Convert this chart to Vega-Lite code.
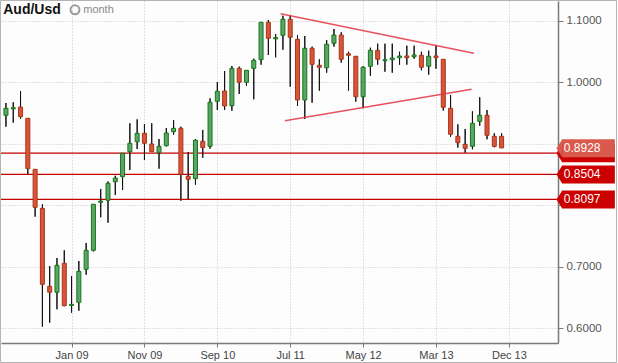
{
  "$schema": "https://vega.github.io/schema/vega-lite/v6.json",
  "width": 557,
  "height": 342,
  "padding": {"left": 1, "top": 1, "right": 60, "bottom": 20},
  "autosize": {"type": "none"},
  "background": "#fdfdfd",
  "config": {"view": {"stroke": null}, "font": "Liberation Sans", "scale": {"continuousPadding": 0}},
  "datasets": {
    "candles": [
      {"i": -9, "o": 0.9466, "h": 0.9666, "l": 0.928, "c": 0.958},
      {"i": -8, "o": 0.957, "h": 0.9677, "l": 0.9345, "c": 0.959},
      {"i": -7, "o": 0.96, "h": 0.986, "l": 0.941, "c": 0.9443},
      {"i": -6, "o": 0.9417, "h": 0.942, "l": 0.851, "c": 0.8597},
      {"i": -5, "o": 0.8587, "h": 0.859, "l": 0.7816, "c": 0.7969},
      {"i": -4, "o": 0.7952, "h": 0.8018, "l": 0.6026, "c": 0.6716},
      {"i": -3, "o": 0.6683, "h": 0.7014, "l": 0.6091, "c": 0.6586},
      {"i": -2, "o": 0.6586, "h": 0.7144, "l": 0.6309, "c": 0.7025},
      {"i": -1, "o": 0.7058, "h": 0.7269, "l": 0.636, "c": 0.6368},
      {"i": 0, "o": 0.637, "h": 0.6851, "l": 0.6254, "c": 0.639},
      {"i": 1, "o": 0.6423, "h": 0.7095, "l": 0.6286, "c": 0.6927},
      {"i": 2, "o": 0.696, "h": 0.7388, "l": 0.6872, "c": 0.7269},
      {"i": 3, "o": 0.7269, "h": 0.802, "l": 0.725, "c": 0.8018},
      {"i": 4, "o": 0.805, "h": 0.8267, "l": 0.7806, "c": 0.807},
      {"i": 5, "o": 0.8083, "h": 0.839, "l": 0.7718, "c": 0.8359},
      {"i": 6, "o": 0.8385, "h": 0.8483, "l": 0.8169, "c": 0.8445},
      {"i": 7, "o": 0.8467, "h": 0.885, "l": 0.825, "c": 0.8847},
      {"i": 8, "o": 0.8873, "h": 0.9336, "l": 0.8576, "c": 0.901},
      {"i": 9, "o": 0.9036, "h": 0.94, "l": 0.8917, "c": 0.9173},
      {"i": 10, "o": 0.9173, "h": 0.9324, "l": 0.8738, "c": 0.901},
      {"i": 11, "o": 0.8999, "h": 0.9336, "l": 0.887, "c": 0.8873},
      {"i": 12, "o": 0.8857, "h": 0.908, "l": 0.8597, "c": 0.8961},
      {"i": 13, "o": 0.8971, "h": 0.9259, "l": 0.896, "c": 0.9178},
      {"i": 14, "o": 0.9199, "h": 0.9389, "l": 0.915, "c": 0.9254},
      {"i": 15, "o": 0.9254, "h": 0.928, "l": 0.8076, "c": 0.8506},
      {"i": 16, "o": 0.8473, "h": 0.8869, "l": 0.8104, "c": 0.8424},
      {"i": 17, "o": 0.8434, "h": 0.908, "l": 0.8337, "c": 0.9059},
      {"i": 18, "o": 0.9043, "h": 0.9227, "l": 0.8776, "c": 0.8939},
      {"i": 19, "o": 0.8961, "h": 0.9742, "l": 0.8922, "c": 0.9677},
      {"i": 20, "o": 0.9693, "h": 1.0007, "l": 0.9552, "c": 0.9856},
      {"i": 21, "o": 0.9861, "h": 1.0186, "l": 0.9552, "c": 0.9617},
      {"i": 22, "o": 0.9622, "h": 1.0268, "l": 0.954, "c": 1.023},
      {"i": 23, "o": 1.023, "h": 1.0257, "l": 0.9812, "c": 1.0003},
      {"i": 24, "o": 1.0003, "h": 1.02, "l": 0.9947, "c": 1.0198},
      {"i": 25, "o": 1.023, "h": 1.0387, "l": 0.9726, "c": 1.036},
      {"i": 26, "o": 1.037, "h": 1.098, "l": 1.0289, "c": 1.0979},
      {"i": 27, "o": 1.0979, "h": 1.1016, "l": 1.0447, "c": 1.0719},
      {"i": 28, "o": 1.071, "h": 1.0788, "l": 1.0409, "c": 1.073},
      {"i": 29, "o": 1.0767, "h": 1.1086, "l": 1.0533, "c": 1.1028},
      {"i": 30, "o": 1.1028, "h": 1.1086, "l": 0.9931, "c": 1.0735},
      {"i": 31, "o": 1.0702, "h": 1.0772, "l": 0.9617, "c": 0.9715},
      {"i": 32, "o": 0.9715, "h": 1.0756, "l": 0.9405, "c": 1.0556},
      {"i": 33, "o": 1.0556, "h": 1.0582, "l": 0.9671, "c": 1.0295},
      {"i": 34, "o": 1.0279, "h": 1.0377, "l": 0.9866, "c": 1.0247},
      {"i": 35, "o": 1.024, "h": 1.0691, "l": 1.0159, "c": 1.0621},
      {"i": 36, "o": 1.0637, "h": 1.087, "l": 1.0582, "c": 1.0772},
      {"i": 37, "o": 1.0772, "h": 1.0816, "l": 1.0322, "c": 1.0377},
      {"i": 38, "o": 1.0468, "h": 1.05, "l": 0.9866, "c": 1.0442},
      {"i": 39, "o": 1.0426, "h": 1.043, "l": 0.9687, "c": 0.9768},
      {"i": 40, "o": 0.9768, "h": 1.0263, "l": 0.958, "c": 1.0247},
      {"i": 41, "o": 1.0263, "h": 1.0566, "l": 1.011, "c": 1.0523},
      {"i": 42, "o": 1.0523, "h": 1.0631, "l": 1.0289, "c": 1.0377},
      {"i": 43, "o": 1.0354, "h": 1.0631, "l": 1.0175, "c": 1.037},
      {"i": 44, "o": 1.037, "h": 1.0631, "l": 1.0159, "c": 1.0398},
      {"i": 45, "o": 1.0403, "h": 1.05, "l": 1.0289, "c": 1.0431},
      {"i": 46, "o": 1.0431, "h": 1.0598, "l": 1.0289, "c": 1.0403},
      {"i": 47, "o": 1.0419, "h": 1.0598, "l": 1.0387, "c": 1.0447},
      {"i": 48, "o": 1.0442, "h": 1.05, "l": 1.0198, "c": 1.0247},
      {"i": 49, "o": 1.0263, "h": 1.0517, "l": 1.0126, "c": 1.0426},
      {"i": 50, "o": 1.0431, "h": 1.0598, "l": 1.0224, "c": 1.0403},
      {"i": 51, "o": 1.0377, "h": 1.038, "l": 0.9544, "c": 0.9596},
      {"i": 52, "o": 0.958, "h": 0.9796, "l": 0.9117, "c": 0.9157},
      {"i": 53, "o": 0.9124, "h": 0.9319, "l": 0.8939, "c": 0.902},
      {"i": 54, "o": 0.8994, "h": 0.9243, "l": 0.8857, "c": 0.8929},
      {"i": 55, "o": 0.8961, "h": 0.9531, "l": 0.8912, "c": 0.9336},
      {"i": 56, "o": 0.9368, "h": 0.9759, "l": 0.9296, "c": 0.9466},
      {"i": 57, "o": 0.9466, "h": 0.9552, "l": 0.9075, "c": 0.914},
      {"i": 58, "o": 0.9124, "h": 0.9173, "l": 0.8945, "c": 0.8961},
      {"i": 59, "o": 0.9124, "h": 0.9173, "l": 0.8945, "c": 0.8935}
    ],
    "levels": [{"v": 0.885}, {"v": 0.8504}, {"v": 0.8097}],
    "trend": [
      {"line": "upper", "i": 28.68, "v": 1.1119},
      {"line": "upper", "i": 55.2, "v": 1.0474},
      {"line": "lower", "i": 29.27, "v": 0.9376},
      {"line": "lower", "i": 54.88, "v": 0.9889}
    ],
    "tags": [
      {"v": 0.885, "t": "", "kind": "line"},
      {"v": 0.8504, "t": "0.8504", "kind": "line"},
      {"v": 0.8097, "t": "0.8097", "kind": "line"},
      {"v": 0.8928, "t": "0.8928", "kind": "last"}
    ]
  },
  "layer": [
    {
      "data": {"name": "candles"},
      "mark": {"type": "rule", "color": "#111111", "strokeWidth": 1},
      "encoding": {
        "x": {
          "field": "i", "type": "quantitative",
          "scale": {"domain": [-9.68, 66.74], "nice": false, "zero": false, "padding": 0},
          "axis": {
            "title": null,
            "values": [0, 10, 20, 30, 40, 50, 60],
            "labelExpr": "['Jan 09','Nov 09','Sep 10','Jul 11','May 12','Mar 13','Dec 13'][round(datum.value/10)]",
            "grid": true, "gridDash": [1, 2], "gridColor": "#c4c4c4",
            "domainColor": "#7a7a7a", "domainWidth": 1.5,
            "tickColor": "#7a7a7a", "tickSize": 4,
            "labelFontSize": 11, "labelColor": "#444444", "labelPadding": 2,
            "labelFlush": false
          }
        },
        "y": {
          "field": "l", "type": "quantitative",
          "scale": {"domain": [0.57608, 1.13254], "nice": false, "zero": false, "padding": 0},
          "axis": {
            "title": null, "orient": "right",
            "values": [0.6, 0.7, 0.8, 0.9, 1.0, 1.1],
            "labelExpr": "(abs(datum.value - 0.8) < 0.001 || abs(datum.value - 0.9) < 0.001) ? '' : format(datum.value, '.4f')",
            "grid": true, "gridDash": [1, 2], "gridColor": "#c4c4c4",
            "domainColor": "#7a7a7a", "domainWidth": 1.5,
            "tickColor": "#7a7a7a", "tickSize": 5,
            "labelFontSize": 11.5, "labelColor": "#555555", "labelPadding": 3,
            "labelFlush": false
          }
        },
        "y2": {"field": "h"}
      }
    },
    {
      "data": {"name": "levels"},
      "mark": {"type": "rule", "color": "#c40000", "strokeWidth": 1.2},
      "encoding": {
        "y": {"field": "v", "type": "quantitative", "title": null}
      }
    },
    {
      "data": {"name": "candles"},
      "mark": {"type": "rule", "color": "#111111", "strokeWidth": 1},
      "encoding": {
        "x": {"field": "i", "type": "quantitative", "title": null},
        "y": {"field": "l", "type": "quantitative", "title": null},
        "y2": {"field": "h"}
      }
    },
    {
      "data": {"name": "candles"},
      "mark": {"type": "bar", "size": 4, "strokeWidth": 1},
      "encoding": {
        "x": {"field": "i", "type": "quantitative", "title": null},
        "y": {"field": "o", "type": "quantitative", "title": null},
        "y2": {"field": "c"},
        "fill": {"condition": {"test": "datum.c >= datum.o", "value": "#5ea36c"}, "value": "#d9543a"},
        "stroke": {"condition": {"test": "datum.c >= datum.o", "value": "#137813"}, "value": "#a8361a"}
      }
    },
    {
      "data": {"name": "trend"},
      "mark": {"type": "line", "color": "#e3343f", "strokeWidth": 1.5, "opacity": 0.85},
      "encoding": {
        "x": {"field": "i", "type": "quantitative", "title": null},
        "y": {"field": "v", "type": "quantitative", "title": null},
        "detail": {"field": "line"}
      }
    },
    {
      "data": {"name": "tags"},
      "mark": {"type": "bar", "size": 18},
      "encoding": {
        "x": {"datum": 67.27, "type": "quantitative", "title": null},
        "x2": {"datum": 74.54},
        "y": {"field": "v", "type": "quantitative", "title": null},
        "fill": {"condition": {"test": "datum.kind == 'last'", "value": "#d95a4c"}, "value": "#cc0000"}
      }
    },
    {
      "data": {"name": "tags"},
      "mark": {"type": "point", "shape": "M0.05,-1L0.05,1L-0.6,0Z", "filled": true, "size": 324, "opacity": 1, "strokeWidth": 0},
      "encoding": {
        "x": {"datum": 67.27, "type": "quantitative", "title": null},
        "y": {"field": "v", "type": "quantitative", "title": null},
        "fill": {"condition": {"test": "datum.kind == 'last'", "value": "#d95a4c"}, "value": "#cc0000"}
      }
    },
    {
      "data": {"name": "tags"},
      "mark": {"type": "text", "align": "left", "baseline": "middle", "fontSize": 12, "color": "#ffffff"},
      "encoding": {
        "x": {"datum": 67.54, "type": "quantitative", "title": null},
        "y": {"field": "v", "type": "quantitative", "title": null},
        "text": {"field": "t"}
      }
    },
    {
      "data": {"values": [{"t": "Aud/Usd"}]},
      "mark": {"type": "text", "align": "left", "baseline": "middle", "fontSize": 14, "fontWeight": "bold", "color": "#111111"},
      "encoding": {
        "x": {"datum": -9.37, "type": "quantitative", "title": null},
        "y": {"datum": 1.1187, "type": "quantitative", "title": null},
        "text": {"field": "t"}
      }
    },
    {
      "data": {"values": [{"t": "month"}]},
      "mark": {"type": "text", "align": "left", "baseline": "middle", "fontSize": 11, "color": "#8a8a8a"},
      "encoding": {
        "x": {"datum": 1.6, "type": "quantitative", "title": null},
        "y": {"datum": 1.1187, "type": "quantitative", "title": null},
        "text": {"field": "t"}
      }
    },
    {
      "data": {"values": [{"t": "clock"}]},
      "mark": {"type": "point", "shape": "circle", "filled": false, "size": 80, "strokeWidth": 2, "color": "#9a9a9a", "opacity": 1},
      "encoding": {
        "x": {"datum": 0.47, "type": "quantitative", "title": null},
        "y": {"datum": 1.1182, "type": "quantitative", "title": null}
      }
    },
    {
      "data": {"values": [{"t": "frame"}]},
      "mark": {"type": "rect", "fillOpacity": 0, "stroke": "#b4b4b4", "strokeWidth": 1},
      "encoding": {
        "x": {"datum": -9.75, "type": "quantitative", "title": null},
        "x2": {"datum": 74.77},
        "y": {"datum": 1.13335, "type": "quantitative", "title": null},
        "y2": {"datum": 0.54435}
      }
    }
  ]
}
